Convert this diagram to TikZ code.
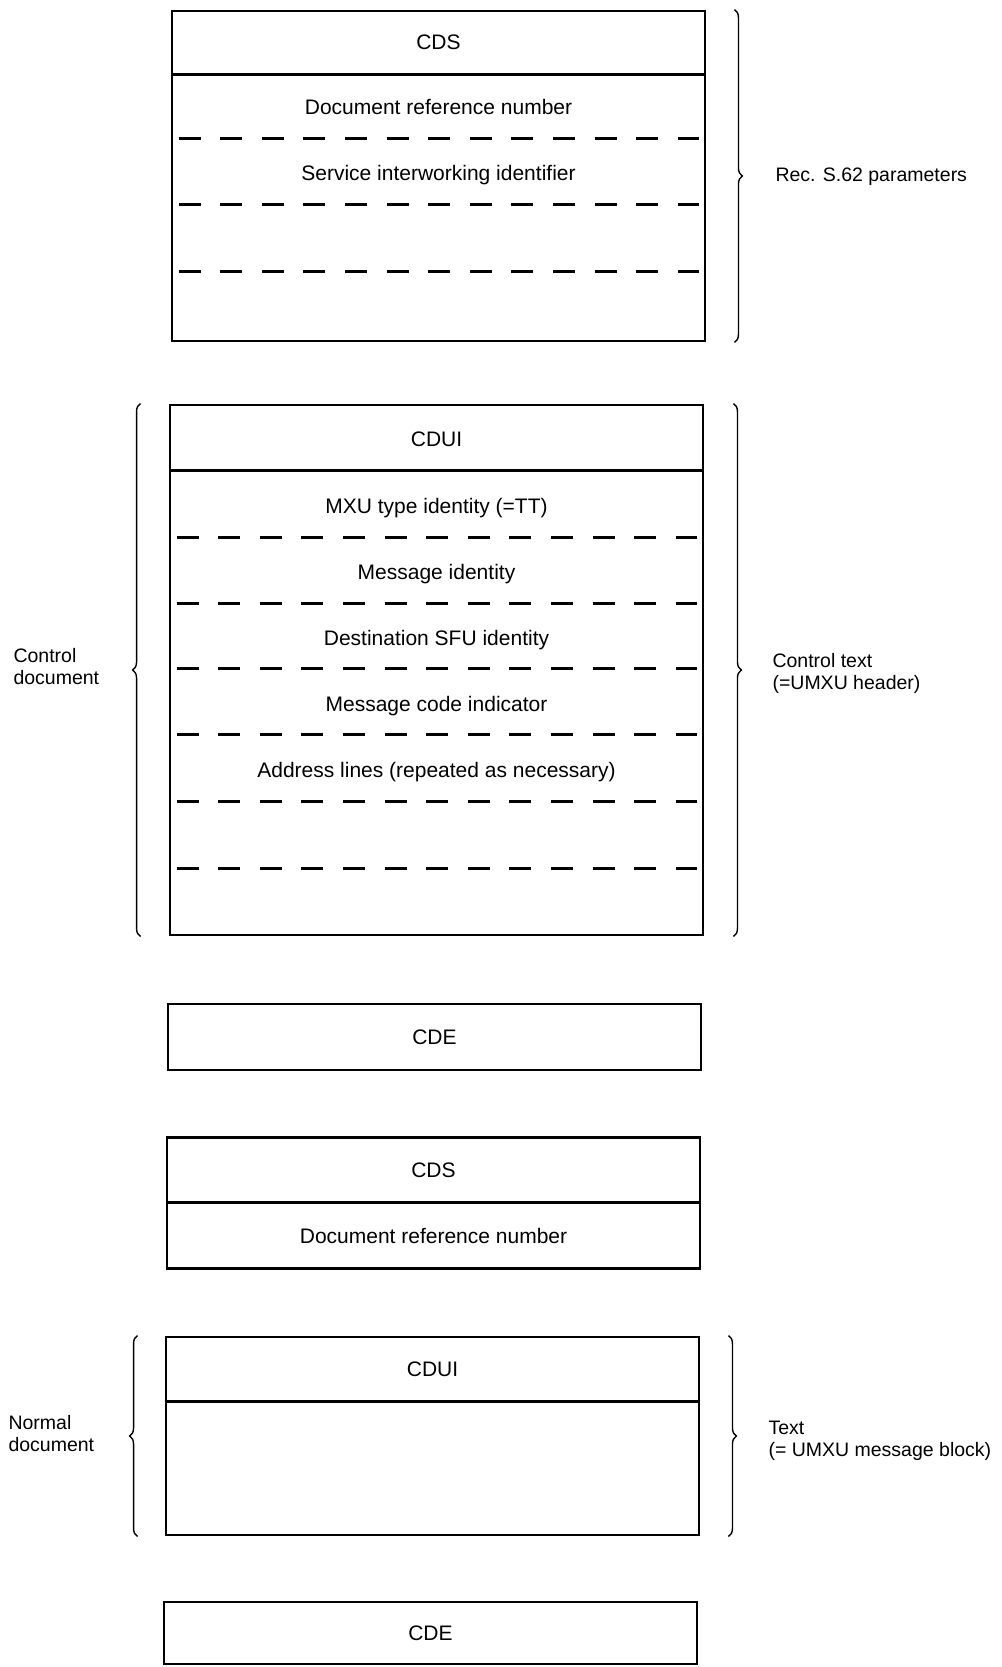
\documentclass[tikz,border=0pt]{standalone}
\usepackage{fontspec}
\setmainfont{Liberation Sans}
\usetikzlibrary{decorations.pathreplacing, positioning}

\begin{document}
\begin{tikzpicture}[x=1pt, y=-1pt,
    frame/.style={draw, line width=2.9pt, minimum width=533pt, inner sep=0pt},
    rule/.style={line width=2.9pt},
    sep/.style={line width=2.2pt, dash pattern=on 22pt off 19.6pt},
    field/.style={font=\fontsize{21}{23}\selectfont, text height=15pt, text depth=0pt},
    lbl/.style={font=\fontsize{19.5}{22}\selectfont, align=left, anchor=west},
    brc/.style={decorate, decoration={brace, amplitude=8pt}, line width=1.4pt}
]
    \useasboundingbox (0,0) rectangle (1001,1667);

    % Rec. S.62 block
    \node[frame, minimum height=330pt] (parA) at (438.5,176) {};
    \draw[rule] (parA.north west) ++(0,65) -- ++(533,0);
    \foreach \dy in {129,195,262}
        \draw[sep] (parA.north west) ++(8,\dy) -- ++(520,0);
    \node[field] (cdsA) at (438.5,42) {CDS};
    \node[field] (drnA) at (438.5,107) {Document reference number};
    \node[field] (siid) at (438.5,173) {Service interworking identifier};

    % control document
    \node[frame, minimum height=530pt] (ctl) at (436.5,670) {};
    \draw[rule] (ctl.north west) ++(0,67) -- ++(533,0);
    \foreach \dy in {134,200,265,331,398,465}
        \draw[sep] (ctl.north west) ++(8,\dy) -- ++(520,0);
    \node[field] (cduiA) at (436.5,439) {CDUI};
    \node[field] (mxu) at (436.5,506) {MXU type identity (=TT)};
    \node[field] (msgid) at (436.5,572) {Message identity};
    \node[field] (dsfu) at (436.5,638) {Destination SFU identity};
    \node[field] (mci) at (436.5,704) {Message code indicator};
    \node[field] (addr) at (436.5,770) {Address lines (repeated as necessary)};

    \node[frame, minimum height=66pt] (endA) at (434.5,1037) {};
    \node[field] (cdeA) at (434.5,1037) {CDE};

    % normal document
    \node[frame, minimum height=131pt] (refB) at (433.5,1203) {};
    \draw[rule] (refB.north west) ++(0,66.5) -- ++(533,0);
    \node[field] (cdsB) at (433.5,1170) {CDS};
    \node[field] (drnB) at (433.5,1236) {Document reference number};

    \node[frame, minimum height=198pt] (txt) at (432.5,1436) {};
    \draw[rule] (txt.north west) ++(0,66) -- ++(533,0);
    \node[field] (cduiB) at (432.5,1369) {CDUI};

    \node[frame, minimum height=62pt] (endB) at (430.5,1633) {};
    \node[field] (cdeB) at (430.5,1633) {CDE};

    % braces
    \draw[brc] ([xshift=28pt]parA.north east) -- ([xshift=28pt]parA.south east);
    \draw[brc] ([xshift=29pt]ctl.north east) -- ([xshift=29pt]ctl.south east);
    \draw[brc] ([xshift=-28pt]ctl.south west) -- ([xshift=-28pt]ctl.north west);
    \draw[brc] ([xshift=28pt]txt.north east) -- ([xshift=28pt]txt.south east);
    \draw[brc] ([xshift=-27pt]txt.south west) -- ([xshift=-27pt]txt.north west);

    % labels
    \node[lbl] (s62) at (772,177) {Rec. S.62 parameters};
    \node[lbl] (cdoc) at (10,667) {Control\\document};
    \node[lbl] (ctxt) at (769,673) {Control text\\(=UMXU header)};
    \node[lbl] (ndoc) at (5,1434) {Normal\\document};
    \node[lbl] (ntxt) at (765,1441) {Text\\(= UMXU message block)};
\end{tikzpicture}
\end{document}
